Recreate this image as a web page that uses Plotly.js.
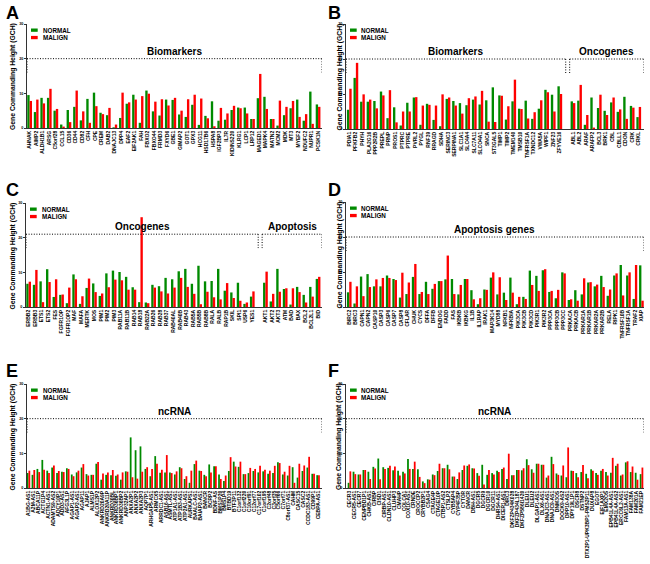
<!DOCTYPE html>
<html><head><meta charset="utf-8">
<script src="https://cdn.plot.ly/plotly-3.0.1.min.js"></script>
<style>html,body{margin:0;padding:0;background:#fff}#chart{width:650px;height:564px}</style>
</head><body><div id="chart"></div>
<script>
const seriesNames = ["NORMAL", "MALIGN"];
const seriesColors = ["#008a00", "#ff0000"];
const yTitle = "Gene Commanding Height (GCH)";
const yTicks = [0, 10, 20, 30];

// Panel A - Biomarkers
const labelsA = ["AHNAK","AIMP2","ALDH1B1","ARSG","C5orf28","CCL15","CD36","CD44","CD82","CFH","CPE","CREM","DAB2","DNAJC13","DPP4","EAF2","EIF2AK1","FAH","FBXO2","FBXO44","FRMD3","FXYD6",
  "GBE1","GIMAP2","GOT1","GPX3","HCG11","HSD17B6","HSPA8","IGF2BP3","IL7R","KIDINS220","KLRG1","LCP1","LRP12","MAGED1","MAPK4","MATN2","MCM2","MDK","MT3","MYEF2","NDUFC2","NUPR1","PCSK1N"];
const normalA = [9.5,4.6,8.7,8.7,5.0,1.0,5.2,6.1,2.2,8.4,10.2,4.4,3.7,0.2,2.9,7.0,9.6,1.5,10.8,4.8,3.6,8.2,
  8.1,3.9,3.2,6.7,0.9,3.5,7.7,2.1,2.4,5.2,5.9,5.9,2.6,8.6,9.0,2.6,0.7,3.7,5.7,8.2,2.1,10.5,6.8];
const malignA = [7.8,8.2,7.1,11.3,5.5,0.4,1.7,10.8,4.8,1.5,6.3,4.0,5.8,1.0,10.2,7.4,8.2,9.2,9.9,7.6,8.3,6.5,
  8.7,5.0,8.3,9.6,8.5,2.8,0.5,5.8,4.2,6.4,5.7,4.2,2.6,15.6,5.5,2.6,7.9,6.1,7.8,3.2,4.0,1.2,6.1];
const groupsA = ["Biomarkers"];

// Panel B - Biomarkers | Oncogenes
const labelsB = ["PDIA1","PFKFB2","PHYH","PLA2G16","PPP2R2B","PREPL","PRNP","PROS1","PTPRC","PTPRE","PVRL2","PYGL","RNF39","RRAGD","SDHA","SERINC3","SERPINA1","SLC1A1","SLC4A4","SLC7A11","SLCO4A1","SNCA",
  "ST3GAL5","TIMP1","TIMP2","TMEM140","TMSB10","TNFRSF1A","TXNDC12","VWA5A","WIPF1","ZNF23","ZFYVE16","",
  "ABL1","ABL2","ARAF","ARAFP2","BCL3","BRK1","CBL","CBLL1","CDON","CRK","CRKL"];
const normalB = [5.5,14.6,7.8,7.8,8.0,10.7,3.1,6.2,1.0,7.5,9.0,1.2,7.2,2.6,0.8,8.6,8.0,7.4,6.8,8.4,7.0,8.2,
  11.9,9.6,2.7,7.9,5.8,8.1,2.9,5.8,11.2,9.8,12.2,null,
  7.9,8.1,1.2,9.0,6.0,5.2,7.6,4.9,9.2,6.6,3.4];
const malignB = [11.5,18.9,9.9,8.4,5.9,9.6,11.1,1.9,5.0,5.0,9.1,6.7,6.9,6.7,9.9,9.0,6.7,4.4,8.8,9.3,10.9,2.1,
  2.0,9.5,6.5,14.1,5.7,3.0,4.8,8.2,10.5,5.0,10.0,null,
  7.4,12.6,4.0,0.4,9.8,4.0,9.0,5.6,2.9,6.1,6.3];
const groupsB = ["Biomarkers", "Oncogenes"];

// Panel C - Oncogenes | Apoptosis
const labelsC = ["ERBB2","ERBB3","ETS1","ETS2","FES","FGFR1OP","FGFR1OP2","MAF","MAFA","MERTK","MOS","PIM1","PIM2","PIM3","RAB11A","RAB11B","RAB14","RAB18","RAB22A","RAB26","RAB28","RAB37",
  "RAB40AL","RAB40B","RAB43","RAB5A","RAB5B","RAB8B","RALA","RALB","RAP1B","SKIL","SPI1","USP6","YES1","",
  "AKT1","AKT2","AKT3","ATM","BAD","BAX","BCL2","BCL2L1","BID"];
const normalC = [6.7,6.4,7.4,10.9,2.9,3.5,1.1,9.4,0.9,5.5,6.8,3.2,9.7,10.5,10.1,8.7,5.7,1.4,1.3,6.4,6.0,8.4,
  8.0,10.3,11.0,6.7,11.9,7.4,7.5,11.0,4.7,4.2,7.0,0.9,3.0,null,
  7.0,1.6,11.0,5.2,0.7,5.8,3.5,5.8,8.1];
const malignC = [7.3,10.7,1.4,7.2,8.0,3.6,5.6,8.0,3.1,8.2,4.3,3.9,5.7,7.9,7.7,5.0,5.0,25.9,1.1,5.6,4.5,3.9,
  5.6,8.4,5.8,3.8,0.8,4.4,2.8,2.2,6.9,2.6,1.8,1.3,4.5,null,
  10.2,3.8,4.4,5.4,5.4,4.3,1.3,3.0,8.7];
const groupsC = ["Oncogenes", "Apoptosis"];

// Panel D - Apoptosis genes
const labelsD = ["BIRC2","BIRC3","CAPN1","CAPN2","CASP10","CASP3","CASP6","CASP7","CASP8","CFLAR","CHUK","CYCS","DFFA","DFFB","ENDOG","FADD","FAS","IKBKB","IKBKG","IL1B","IL1RAP","IRAK1","MAP3K14",
  "MYD88","NFKB1","NFKBIA","PIK3CA","PIK3CB","PIK3CD","PIK3R1","PIK3R2","PPP3CA","PPP3CB","PPP3CC","PRKACA","PRKACB","PRKAR1A","PRKAR1B","PRKAR2A","PRKAR2B","RELA","RIPK1","TNFRSF10B","TNFRSF1A","TRAF2","XIAP"];
const normalD = [4.2,1.0,8.7,9.4,5.9,5.9,9.0,8.0,2.7,3.7,8.6,3.7,7.2,5.2,7.4,7.9,8.0,3.6,8.0,4.8,0.8,5.0,8.4,
  3.6,4.1,8.4,0.8,2.9,10.4,8.9,10.5,4.3,2.5,9.9,2.0,4.8,3.6,7.0,5.9,8.9,3.2,9.0,12.0,9.0,2.3,11.9];
const malignD = [7.2,5.9,3.1,5.7,7.9,8.3,8.3,7.7,9.8,7.0,12.3,4.3,3.7,6.6,7.4,14.7,3.7,6.3,8.0,2.2,2.5,4.9,9.9,
  8.5,2.0,4.1,2.9,2.3,6.3,4.6,10.8,4.6,4.9,9.6,2.2,1.8,8.2,7.1,6.4,5.7,5.0,9.6,3.3,9.9,12.0,1.8];
const groupsD = ["Apoptosis genes"];

// Panel E - ncRNA
const labelsE = ["A1BG-AS1","A2M-AS1","ABCA11P","ACTG1P4","ACTN1-AS1","ADAMTS9-AS2","ADCY10P1","ADD3-AS1","AFG3L1P","AGAP1-AS1","AGAP2-AS1","AGAP11","AJAP1","ALMS1P","ALOX12P2","ANKRD20A9P","ANKRD20A11P","ANKRD30BL","ANKRD36BP1","ANKRD36BP2","ANP32AP1","ANXA2P1","ANXA2P2","ANXA2P3","AQP7P1","ARHGAP5-AS1","ARMCX5","ARRDC1-AS1","ASB16-AS1","ASMTL-AS1",
  "ATP1A1-AS1","ATP1B3-AS1","ATP2A1-AS1","AURKAPS1","BAALC-AS1","BAIAP2-AS1","BANCR","BCRP2","BDNF-AS","BMS1P20","BMS1P4","BTBD19","BTF3P11","C1orf132","C1orf220","C10orf91","C12orf77","C17orf102","C1orf195","C2orf48","C3orf35","C5orf66","C7orf71","C8orf37-AS1","CAHM","CASC15","CASC2","CCDC183-AS1","CD99P1","CEBPA-AS1"];
const normalE = [4.3,3.8,5.5,8.1,5.0,5.9,4.3,4.7,5.7,3.9,4.5,5.9,4.0,3.8,7.0,2.4,3.8,3.7,3.5,2.4,4.8,14.6,10.9,12.0,5.5,3.4,9.2,4.4,4.5,4.5,
  3.9,6.0,2.6,1.5,6.9,5.0,3.8,6.8,6.3,3.9,2.0,4.9,7.6,6.1,4.0,4.3,4.9,4.5,4.8,4.1,4.3,7.4,3.9,3.6,6.0,3.0,4.9,5.9,4.1,3.7];
const malignE = [5.0,5.2,4.6,5.3,4.3,6.5,4.9,4.6,5.5,3.4,5.0,6.9,3.6,3.8,7.5,4.2,4.5,5.2,3.9,4.5,4.7,3.1,2.7,4.7,6.0,5.5,7.0,5.3,9.5,4.3,
  4.8,5.7,3.4,5.0,7.9,4.9,3.4,4.5,6.3,2.6,3.6,8.9,6.2,7.6,4.0,5.8,5.5,6.4,5.3,5.0,6.4,7.2,4.7,6.4,1.5,7.0,6.5,9.0,4.1,3.7];
const groupsE = ["ncRNA"];

// Panel F - ncRNA
const labelsF = ["CECR3","CECR5-AS1","CECR7","CENPBD1P1","CHKB-AS1","CIRBP","CISD1","CIRBP-AS1","CLDN10-AS1","CLUHP3","CMAHP","COLCA1","COX10-AS1","CRNDE","CROCCP2","CRYBB2P1","CSAG4","CTAGE4P","CTAGE10P","CTBP1-AS2","CTSLP2","CYB5AP4","CYP4F35P","CYTOR","DANCR","DBH-AS1","DGCR5","DGCR9","DGCR10","DGCR11",
  "DHRS4-AS1","DICER1-AS1","DIRC3","DKFZP434K028","DKFZP434L187","DKFZP586I1420","DLEU1","DLEU2","DLGAP1-AS1","DLX6-AS1","DNAJC3-AS1","DNAJC9-AS1","DNM3OS","DOCK9-AS2","DPP10-AS1","DPY19L1P1","DSCR8","DSTNP2","DTX2P1-UPK3BP1-PMS2P11","DUXAP8","EGOT","EIF1AXP1","EMX2OS","EPB41L4A-AS1","EPB41L4A-AS2","ERCC6L2-AS1","FAM13A-AS1","FAM138A","FAM201A","FAM21EP"];
const normalF = [1.5,4.7,3.9,5.2,4.7,6.1,8.5,6.0,5.8,5.1,5.0,4.7,8.4,5.5,5.4,1.9,2.5,3.9,4.9,5.7,6.7,3.3,2.6,5.2,6.4,5.7,4.3,6.7,3.8,4.3,
  5.0,5.5,2.6,3.7,5.2,5.1,8.3,5.4,7.0,6.7,3.0,9.0,4.2,3.6,3.1,5.0,4.3,4.6,4.1,5.4,4.3,5.0,4.6,4.4,6.4,3.6,7.4,4.6,4.4,4.0];
const malignF = [4.8,4.0,3.9,5.2,2.6,5.6,2.5,5.5,6.4,6.2,3.6,4.2,5.5,7.6,3.2,1.4,2.4,3.7,7.0,5.7,5.4,3.3,4.5,6.5,6.8,5.6,3.5,1.0,5.2,3.9,
  4.6,5.9,9.9,3.7,5.2,5.7,6.6,4.4,7.0,6.7,3.6,6.9,3.8,6.5,11.7,4.9,3.1,6.6,2.8,5.0,3.8,5.5,3.6,8.7,7.0,3.9,7.7,6.2,2.4,5.9];
const groupsF = ["ncRNA"];

// ---------- layout ----------
const W = 650, H = 564;
const FONT = "Liberation Sans, Arial, Helvetica, sans-serif";
const px = v => v / W;
const py = v => 1 - v / H;

const panels = [
  {letter:"A", labels:labelsA, normal:normalA, malign:malignA, groups:groupsA, box:[27,322,24,128], range:[-0.4,44.6], level:20, titleX:13, letterPos:[4,13.5]},
  {letter:"B", labels:labelsB, normal:normalB, malign:malignB, groups:groupsB, box:[346,644,24,129], range:[-0.5,44.8], level:20, titleX:339, letterPos:[326,13.5]},
  {letter:"C", labels:labelsC, normal:normalC, malign:malignC, groups:groupsC, box:[26,322,203,307], range:[-0.4,44.6], level:21, titleX:12.5, letterPos:[4,189.5]},
  {letter:"D", labels:labelsD, normal:normalD, malign:malignD, groups:groupsD, box:[346,644,202,307], range:[-0.5,45.4], level:20, titleX:339, letterPos:[326,189.5]},
  {letter:"E", labels:labelsE, normal:normalE, malign:malignE, groups:groupsE, box:[27,322,384,488], range:[-0.3,59.8], level:20, titleX:12.5, letterPos:[4,370.5]},
  {letter:"F", labels:labelsF, normal:normalF, malign:malignF, groups:groupsF, box:[346,644,384,488], range:[-0.7,59.5], level:20, titleX:339, letterPos:[326,370.5]}
];

const data = [];
const layout = {
  width: W, height: H,
  margin: {l:0, r:0, t:0, b:0},
  paper_bgcolor: "#fff", plot_bgcolor: "rgba(0,0,0,0)",
  font: {family: FONT, color: "#000"},
  barmode: "group", bargap: 0.28, bargroupgap: 0,
  showlegend: false,
  shapes: [], annotations: []
};
const dotted = {color: "#000", width: 1, dash: "1px,1.6px"};

panels.forEach((p, i) => {
  const n = i === 0 ? "" : String(i + 1);
  const b = p.box;
  const xs = p.labels.map((_, j) => j);
  const tickvals = xs.filter(j => p.labels[j] !== "");
  const ticktext = tickvals.map(j => p.labels[j]);
  [p.normal, p.malign].forEach((vals, k) => {
    data.push({
      type: "bar", x: xs, y: vals, name: seriesNames[k],
      xaxis: "x" + n, yaxis: "y" + n,
      marker: {color: seriesColors[k], line: {width: 0}},
      showlegend: false
    });
  });
  layout["xaxis" + n] = {
    domain: [px(b[0]), px(b[1])], anchor: "y" + n, range: p.range,
    tickmode: "array", tickvals: tickvals, ticktext: ticktext, tickangle: -90,
    tickfont: {size: 5, family: FONT, weight: "bold", color: "#000"},
    ticks: "", showline: true, linecolor: "#000", linewidth: 0.8,
    showgrid: false, zeroline: false, fixedrange: true
  };
  layout["yaxis" + n] = {
    domain: [py(b[3]), py(b[2])], anchor: "x" + n, range: [0, 30],
    tickmode: "array", tickvals: yTicks,
    ticks: "outside", ticklen: 2, tickwidth: 0.8, tickcolor: "#000",
    tickfont: {size: 3.8, family: FONT, weight: "bold", color: "#000"},
    showline: true, linecolor: "#000", linewidth: 0.8,
    showgrid: false, zeroline: false, fixedrange: true
  };

  // y-axis title
  layout.annotations.push({xref: "paper", yref: "paper", x: px(p.titleX), y: py((b[2] + b[3]) / 2 + 1),
    xanchor: "center", yanchor: "middle", textangle: -90, text: yTitle, showarrow: false,
    font: {size: 6.8, family: FONT, weight: "bold", color: "#000"}});

  // group brackets
  const xr = "x" + n, yr = "y" + n;
  const gap = p.labels.indexOf("");
  const spans = p.groups.length === 1 ? [[p.range[0], p.range[1]]]
    : [[p.range[0], gap - 0.1], [gap + 0.5, p.range[1]]];
  spans.forEach((s, g) => {
    layout.shapes.push({type: "line", xref: xr, yref: yr, x0: s[0], x1: s[1], y0: p.level, y1: p.level, line: dotted});
    layout.shapes.push({type: "line", xref: xr, yref: yr, x0: s[0], x1: s[0], y0: p.level, y1: p.level - 4, line: dotted});
    layout.shapes.push({type: "line", xref: xr, yref: yr, x0: s[1], x1: s[1], y0: p.level, y1: p.level - 4, line: dotted});
    layout.annotations.push({
      xref: xr, yref: yr, x: (s[0] + s[1]) / 2, y: p.level, yanchor: "bottom", xanchor: "center",
      text: p.groups[g], showarrow: false, yshift: 0,
      font: {size: 10, family: FONT, weight: "bold", color: "#000"}
    });
  });

  // legend (one per panel)
  seriesNames.forEach((nm, k) => {
    const top = b[2] + 4.5 + k * 7.4;
    layout.shapes.push({type: "rect", xref: "paper", yref: "paper",
      x0: px(b[0] + 4), x1: px(b[0] + 10.7), y0: py(top + 3.3), y1: py(top),
      fillcolor: seriesColors[k], line: {width: 0}});
    layout.annotations.push({xref: "paper", yref: "paper", x: px(b[0] + 13.5), y: py(top + 1.7),
      xanchor: "left", yanchor: "middle", text: nm, showarrow: false,
      font: {size: 6.3, family: FONT, weight: "bold", color: "#000"}});
  });

  // panel letter
  layout.annotations.push({xref: "paper", yref: "paper", x: px(p.letterPos[0]), y: py(p.letterPos[1]),
    xanchor: "left", yanchor: "middle", text: p.letter, showarrow: false,
    font: {size: 18, family: FONT, weight: "bold", color: "#000"}});
});

Plotly.newPlot("chart", data, layout, {staticPlot: true, displayModeBar: false});
</script>
</body></html>
